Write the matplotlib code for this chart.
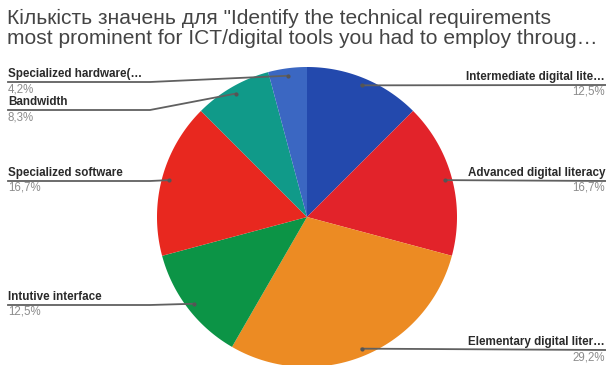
import numpy as np
import matplotlib
matplotlib.use("Agg")
import matplotlib.pyplot as plt

plt.rcParams['font.family'] = ['Liberation Sans', 'DejaVu Sans']

title = 'Кількість значень для "Identify the technical requirements\nmost prominent for ICT/digital tools you had to employ throug…'
labels = ['Intermediate digital lite…', 'Advanced digital literacy', 'Elementary digital liter…',
          'Intutive interface', 'Specialized software', 'Bandwidth', 'Specialized hardware(…']
counts = [3, 4, 7, 3, 4, 2, 1]
colors = ['#2349ad', '#e2232a', '#ec8b23', '#0c9446', '#e8281f', '#109a89', '#3b67c2']

# label rows (pixel y of the leader line) and side
line_y = [85, 181, 350, 305, 181, 110, 82]
side = ['r', 'r', 'r', 'l', 'l', 'l', 'l']

W, H = 606, 365
cx, cy, R = 307, 217, 150

fig = plt.figure(figsize=(W / 100, H / 100), dpi=100)
ax = fig.add_axes([0, 0, 1, 1])
ax.set_xlim(0, W)
ax.set_ylim(H, 0)
ax.axis('off')

total = sum(counts)
ang = 0.0
for n, c in zip(counts, colors):
    frac = n / total
    # clockwise from 12 o'clock, y axis points down
    t = np.linspace(ang, ang + frac * 2 * np.pi, 100)
    xs = np.concatenate([[cx], cx + R * np.sin(t), [cx]])
    ys = np.concatenate([[cy], cy - R * np.cos(t), [cy]])
    ax.fill(xs, ys, color=c, lw=0)
    ang += frac * 2 * np.pi

fig.text(7 / W, 1 - 9 / H, title, ha='left', va='top', fontsize=15.1,
         color='#444444', linespacing=1.08)

ang = 0.0
for lab, n, ly, s in zip(labels, counts, line_y, side):
    frac = n / total
    mid = ang + frac * np.pi
    ang += frac * 2 * np.pi
    px = cx + 0.95 * R * np.sin(mid)
    py = cy - 0.95 * R * np.cos(mid)
    pct = ('%.1f%%' % (100 * frac)).replace('.', ',')
    if s == 'l':
        ax.plot([8, 150, px], [ly, ly, py], color='#606060', lw=1.3)
        ax.plot(px, py, 'o', ms=2, color='#555555')
        ax.text(8, ly - 2, lab, ha='left', va='bottom', fontsize=8.4, weight='bold', color='#2a2a2a')
        ax.text(8, ly + 1, pct, ha='left', va='top', fontsize=8.3, color='#8c8c8c')
    else:
        ax.plot([W, px], [ly, py], color='#606060', lw=1.3)
        ax.plot(px, py, 'o', ms=2, color='#555555')
        ax.text(W - 1, ly - 2, lab, ha='right', va='bottom', fontsize=8.4, weight='bold', color='#2a2a2a')
        ax.text(W - 1, ly + 1, pct, ha='right', va='top', fontsize=8.3, color='#8c8c8c')

fig.savefig('out.png', dpi=100)
